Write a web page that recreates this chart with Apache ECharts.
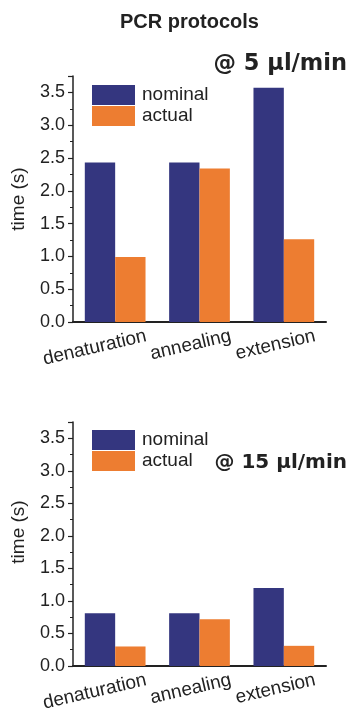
<!DOCTYPE html>
<html>
<head>
<meta charset="utf-8">
<script src="https://cdn.jsdelivr.net/npm/echarts@6/dist/echarts.min.js"></script>
<style>
html,body{margin:0;padding:0;background:#fff;}
#chart{width:351px;height:715px;}
</style>
</head>
<body>
<div id="chart"></div>
<script>
// ---- data ----
const categories = ['denaturation', 'annealing', 'extension'];
const seriesNames = ['nominal', 'actual'];
const nominal5 = [2.43, 2.43, 3.57];
const actual5 = [0.99, 2.34, 1.26];
const nominal15 = [0.81, 0.81, 1.20];
const actual15 = [0.30, 0.72, 0.31];
const chartTitle = 'PCR protocols';
const panelTitles = ['@ 5 µl/min', '@ 15 µl/min'];
const yName = 'time (s)';
const yMin = 0, yMax = 3.75, yInterval = 0.5;

const FONT = "'Liberation Sans', Arial, sans-serif";
const BOLDFONT = "'DejaVu Sans', 'Liberation Sans', Arial, sans-serif";
const TXT = '#222';
const BLUE = '#34367f';
const ORANGE = '#ed7d31';
const XFS = 19;

// label text widths (used to right-anchor the rotated category labels)
const ctx = document.createElement('canvas').getContext('2d');
ctx.font = XFS + "px 'Liberation Sans', Arial, sans-serif";
const rich = {};
categories.forEach((c, i) => {
  const w = ctx.measureText(c).width;
  const p = Math.max(0, Math.round(w - 64));
  rich['c' + i] = { fontFamily: FONT, fontSize: XFS, color: TXT, padding: [0, p, 0, 0] };
});

function yAxis(gi, shift) {
  return {
    type: 'value', gridIndex: gi, min: yMin, max: yMax, interval: yInterval,
    name: yName, nameLocation: 'middle', nameGap: 45,
    nameTextStyle: { fontFamily: FONT, fontSize: 19, color: TXT, padding: [0, 0, 0, shift] },
    axisLine: { show: true, lineStyle: { color: TXT, width: 1.5 } },
    axisTick: { show: true, inside: false, length: 5, lineStyle: { color: TXT, width: 1.2 } },
    minorTick: { show: true, splitNumber: 2, length: 3, lineStyle: { color: TXT, width: 1 } },
    splitLine: { show: false },
    axisLabel: { fontFamily: FONT, fontSize: 18, color: TXT, margin: 8, showMaxLabel: false,
      formatter: v => v.toFixed(1) }
  };
}
function xAxis(gi) {
  return {
    type: 'category', gridIndex: gi, data: categories,
    axisLine: { show: true, lineStyle: { color: TXT, width: 2 } },
    axisTick: { show: false },
    axisLabel: { fontFamily: FONT, fontSize: XFS, color: TXT, rotate: 13, interval: 0,
      align: 'center', verticalAlign: 'middle', margin: 21,
      formatter: (v, i) => '{c' + i + '|' + v + '}', rich: rich }
  };
}
function bar(name, data, gi, color) {
  return { name: name, type: 'bar', xAxisIndex: gi, yAxisIndex: gi, data: data,
    barWidth: '36%', barGap: '0%', itemStyle: { color: color } };
}
function legend(top) {
  return { data: seriesNames, orient: 'vertical', left: 92, top: top, padding: 0,
    itemWidth: 43, itemHeight: 20, itemGap: 1, icon: 'rect',
    textStyle: { fontFamily: FONT, fontSize: 19, color: TXT, lineHeight: 20, padding: [0, 0, 0, 2] } };
}

const chart = echarts.init(document.getElementById('chart'), null, { renderer: 'canvas' });
chart.setOption({
  backgroundColor: '#fff',
  animation: false,
  title: [
    { text: chartTitle, left: 120, top: 12, padding: 0,
      textStyle: { fontFamily: FONT, fontSize: 20, fontWeight: 'bold', color: TXT } },
    { text: panelTitles[0], right: 4, top: 53, padding: 0,
      textStyle: { fontFamily: BOLDFONT, fontSize: 22.5, fontWeight: 'bold', color: TXT } },
    { text: panelTitles[1], right: 4, top: 453, padding: 0,
      textStyle: { fontFamily: BOLDFONT, fontSize: 20, fontWeight: 'bold', color: TXT } }
  ],
  legend: [legend(85), legend(430)],
  grid: [
    { left: 73, right: 25, top: 76, height: 246 },
    { left: 73, right: 25, top: 422, height: 244 }
  ],
  xAxis: [xAxis(0), xAxis(1)],
  yAxis: [yAxis(0, 0), yAxis(1, 24)],
  series: [
    bar(seriesNames[0], nominal5, 0, BLUE),
    bar(seriesNames[1], actual5, 0, ORANGE),
    bar(seriesNames[0], nominal15, 1, BLUE),
    bar(seriesNames[1], actual15, 1, ORANGE)
  ]
});
</script>
</body>
</html>
